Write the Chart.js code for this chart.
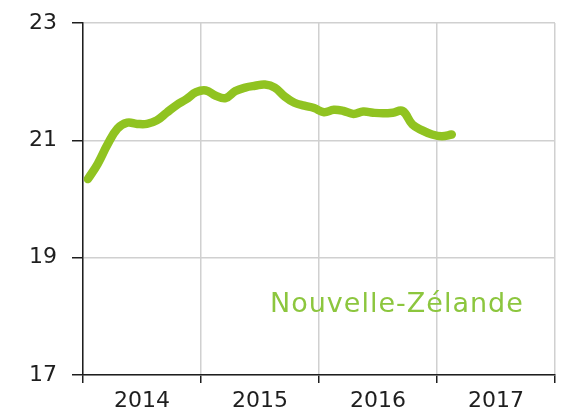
<!DOCTYPE html>
<html>
<head>
  <meta charset="UTF-8">
  <title>Nouvelle-Zélande</title>
  <script src="https://cdn.jsdelivr.net/npm/chart.js"></script>
  <style>
    html, body { margin: 0; padding: 0; background: #fff; }
    #wrap { width: 561px; height: 419px; position: relative; }
  </style>
</head>
<body>
  <div id="wrap"><canvas id="nz"></canvas></div>
  <script>
    // monthly values, Jan 2014 .. Feb 2017
    const months = [];
    for (let m = 0; m < 38; m++) months.push(m + 0.5);
    const values = [
      20.34, 20.60, 20.93, 21.20, 21.30, 21.28, 21.28, 21.34, 21.47, 21.60, 21.70, 21.82,
      21.85, 21.76, 21.72, 21.84, 21.90, 21.93, 21.95, 21.90, 21.75, 21.64, 21.59, 21.55,
      21.48, 21.52, 21.50, 21.45, 21.49, 21.47, 21.46, 21.47, 21.50, 21.27, 21.17, 21.10,
      21.07, 21.10
    ];
    const yearLabels = { 6: '2014', 18: '2015', 30: '2016', 42: '2017' };
    const yTicks = [17, 19, 21, 23];
    const seriesName = 'Nouvelle-Zélande';

    const green = '#90c321';
    const gridGray = '#d0d0d0';
    const axisDark = '#1e1e1e';
    const font = '"DejaVu Sans", sans-serif';

    // country name written inside the plot
    const labelPlugin = {
      id: 'countryLabel',
      afterDraw(chart) {
        const ctx = chart.ctx;
        ctx.save();
        ctx.font = '27px ' + font;
        ctx.letterSpacing = '1px';
        ctx.fillStyle = '#8cc63e';
        ctx.textAlign = 'left';
        ctx.textBaseline = 'alphabetic';
        ctx.fillText(seriesName, 270, 312);
        ctx.restore();
      }
    };

    new Chart(document.getElementById('nz'), {
      type: 'line',
      data: {
        datasets: [{
          label: seriesName,
          data: months.map((m, i) => ({ x: m, y: values[i] })),
          borderColor: green,
          borderWidth: 8.5,
          borderCapStyle: 'round',
          borderJoinStyle: 'round',
          pointRadius: 0,
          tension: 0.4,
          fill: false
        }]
      },
      options: {
        responsive: true,
        maintainAspectRatio: false,
        animation: false,
        layout: { padding: { top: 23, right: 6, left: 0, bottom: 0 } },
        plugins: { legend: { display: false }, tooltip: { enabled: false } },
        scales: {
          x: {
            type: 'linear',
            min: 0,
            max: 48,
            afterBuildTicks: (s) => { s.ticks = [0, 6, 12, 18, 24, 30, 36, 42, 48].map(v => ({ value: v })); },
            afterFit: (s) => { s.height = 44; s.paddingLeft = 0; s.paddingRight = 0; },
            border: { color: axisDark, width: 1.5 },
            grid: {
              color: (c) => (c.tick && c.tick.value % 12 === 0) ? gridGray : 'transparent',
              tickColor: (c) => (c.tick && c.tick.value % 12 === 0) ? axisDark : 'transparent',
              tickLength: 8,
              lineWidth: 1.5
            },
            ticks: {
              autoSkip: false,
              maxRotation: 0,
              padding: 5,
              color: axisDark,
              font: { family: font, size: 22 },
              callback: (v) => yearLabels[v] || ''
            }
          },
          y: {
            min: 17,
            max: 23,
            afterBuildTicks: (s) => { s.ticks = yTicks.map(v => ({ value: v })); },
            afterFit: (s) => { s.width = 83; s.paddingTop = 0; s.paddingBottom = 0; },
            border: { color: axisDark, width: 1.5 },
            grid: {
              color: gridGray,
              tickColor: axisDark,
              tickLength: 11,
              lineWidth: 1.5
            },
            ticks: {
              padding: 15,
              color: axisDark,
              font: { family: font, size: 22 }
            }
          }
        }
      },
      plugins: [labelPlugin]
    });
  </script>
</body>
</html>
